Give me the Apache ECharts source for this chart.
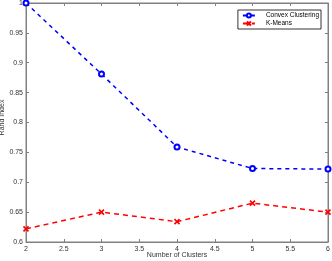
<!DOCTYPE html>
<html><head><meta charset="utf-8">
<script src="https://cdn.jsdelivr.net/npm/echarts@6/dist/echarts.min.js"></script>
<style>html,body{margin:0;padding:0;background:#fff}#c{width:332px;height:261px}</style>
</head><body><div id="c"></div>
<script>
const clusters = [2, 3, 4, 5, 6];
const convexClustering = [1.0, 0.881, 0.759, 0.723, 0.722];
const kMeans = [0.622, 0.650, 0.634, 0.665, 0.650];
const xTicks = [2, 2.5, 3, 3.5, 4, 4.5, 5, 5.5, 6];
const yTicks = [0.6, 0.65, 0.7, 0.75, 0.8, 0.85, 0.9, 0.95, 1];

const font = 'Liberation Sans';
const axisGray = '#808080';
const chart = echarts.init(document.getElementById('c'), null, {renderer: 'canvas'});
const fmt = v => String(+v.toFixed(2));
chart.setOption({
  animation: false,
  grid: {left: 26, right: 4, top: 3, bottom: 19, show: true, borderColor: axisGray, borderWidth: 1,
         containLabel: false, outerBoundsMode: 'none'},
  legend: {
    right: 11, top: 10, orient: 'vertical', itemGap: 1, itemWidth: 12, itemHeight: 5,
    padding: [2, 2, 2, 4], borderColor: '#000', borderWidth: 0.8, backgroundColor: '#fff',
    textStyle: {fontFamily: font, fontSize: 6.5, color: '#000', padding: [0, 0, 0, 6]},
    data: ['Convex Clustering', 'K-Means']
  },
  xAxis: [{
    type: 'value', min: 2, max: 6, interval: 0.5,
    name: 'Number of Clusters', nameLocation: 'middle', nameGap: 10, nameMoveOverlap: false,
    nameTextStyle: {fontFamily: font, fontSize: 7, color: '#333'},
    axisLine: {show: true, lineStyle: {color: axisGray}},
    axisTick: {show: true, inside: true, length: 3, lineStyle: {color: axisGray}},
    axisLabel: {fontFamily: font, fontSize: 7, color: '#333', margin: 4, formatter: fmt},
    splitLine: {show: false}
  }, {
    type: 'value', min: 2, max: 6, interval: 0.5, position: 'top',
    axisLine: {show: true, lineStyle: {color: axisGray}},
    axisTick: {show: true, inside: true, length: 3, lineStyle: {color: axisGray}},
    axisLabel: {show: false}, splitLine: {show: false}
  }],
  yAxis: [{
    type: 'value', min: 0.6, max: 1, interval: 0.05,
    name: 'Rand Index', nameLocation: 'middle', nameGap: 20, nameMoveOverlap: false,
    nameTextStyle: {fontFamily: font, fontSize: 7, color: '#333', padding: [0, 0, 0, 10]},
    axisLine: {show: true, lineStyle: {color: axisGray}},
    axisTick: {show: true, inside: true, length: 3, lineStyle: {color: axisGray}},
    axisLabel: {fontFamily: font, fontSize: 7, color: '#333', margin: 3, formatter: fmt},
    splitLine: {show: false}
  }, {
    type: 'value', min: 0.6, max: 1, interval: 0.05, position: 'right',
    axisLine: {show: true, lineStyle: {color: axisGray}},
    axisTick: {show: true, inside: true, length: 3, lineStyle: {color: axisGray}},
    axisLabel: {show: false}, splitLine: {show: false}
  }],
  series: [{
    name: 'Convex Clustering', type: 'line',
    data: clusters.map((c, i) => [c, convexClustering[i]]),
    symbol: 'emptyCircle', symbolSize: 5,
    lineStyle: {color: '#0000ff', width: 1.5, type: [4, 4]},
    itemStyle: {color: '#0000ff', borderColor: '#0000ff', borderWidth: 1.5},
    emphasis: {disabled: true}
  }, {
    name: 'K-Means', type: 'line',
    data: clusters.map((c, i) => [c, kMeans[i]]),
    symbol: 'path://M0,0L10,10M10,0L0,10', symbolSize: 5,
    lineStyle: {color: '#ff0000', width: 1.5, type: [5, 4]},
    itemStyle: {color: '#ff0000', borderColor: '#ff0000', borderWidth: 1.6},
    emphasis: {disabled: true}
  }]
});
</script></body></html>
